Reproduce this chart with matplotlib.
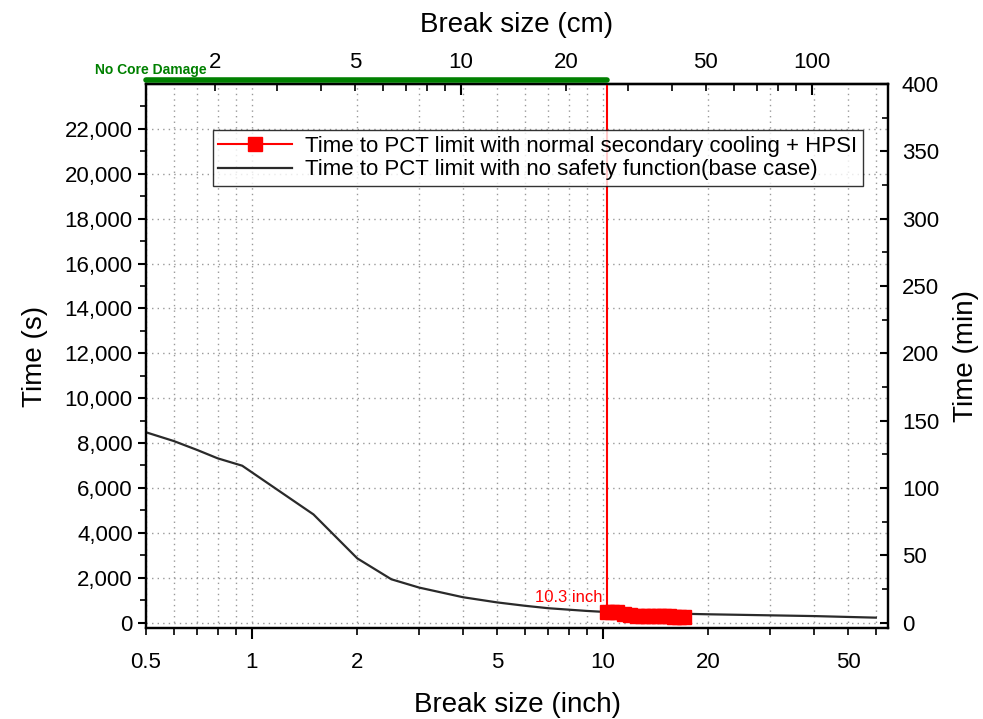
import matplotlib
matplotlib.use("Agg")
import matplotlib.pyplot as plt
from matplotlib.ticker import FixedLocator, FuncFormatter
import matplotlib.transforms as mtransforms

plt.rcParams['font.family'] = ['Liberation Sans', 'DejaVu Sans']

# base case: no safety function
size_base = [0.5, 0.6, 0.7, 0.8, 0.94, 1.5, 2.0, 2.5, 3.0, 4.0, 5.0, 6.0, 7.0, 9.0, 10.0, 15.0, 20.0, 40.0, 60.0]
time_base = [8480, 8090, 7690, 7320, 6990, 4820, 2860, 1930, 1560, 1130, 900, 750, 640, 520, 480, 410, 370, 290, 220]

# normal secondary cooling + HPSI
size_hpsi = [10.3, 10.6, 11.0, 11.5, 12.0, 12.5, 13.0, 13.5, 14.0, 14.5, 15.0, 15.5, 16.0, 16.5, 17.0]
time_hpsi = [480, 470, 460, 380, 330, 300, 290, 285, 280, 280, 275, 275, 270, 270, 270]

limit_size = 10.3

fig = plt.figure(figsize=(9.83, 7.19), dpi=100)
ax = fig.add_axes([0.1485, 0.1266, 0.7549, 0.7566])

ax.plot(size_base, time_base, color='#2a2a2a', lw=1.6, zorder=3,
        label='Time to PCT limit with no safety function(base case)')
ax.plot(size_hpsi, time_hpsi, color='red', marker='s', ms=10, lw=1.5, zorder=4,
        label='Time to PCT limit with normal secondary cooling + HPSI')

# 10.3 inch boundary
ax.plot([limit_size, limit_size], [600, 24000], color='red', lw=1.5, zorder=4)
ax.text(limit_size * 0.97, 780, '10.3 inch', color='red', fontsize=12, ha='right', va='bottom')

# no core damage bar above the axis
trans = mtransforms.blended_transform_factory(ax.transData, ax.transAxes)
ax.plot([0.5, limit_size], [1.008, 1.008], transform=trans, color='#008000', lw=4,
        solid_capstyle='round', clip_on=False, zorder=6)
ax.text(0.007, 1.018, 'No Core Damage', transform=ax.transAxes, color='#008000',
        fontsize=10, fontweight='bold', ha='center', va='baseline')

ax.set_xscale('log')
ax.set_xlim(0.5, 65)
ax.set_ylim(-240, 24000)

x_minor = [0.5, 0.6, 0.7, 0.8, 0.9, 2, 3, 4, 5, 6, 7, 8, 9, 20, 30, 40, 50, 60]
ax.xaxis.set_major_locator(FixedLocator([1, 10]))
ax.xaxis.set_minor_locator(FixedLocator(x_minor))
ax.xaxis.set_major_formatter(FuncFormatter(lambda v, p: '%g' % v))
ax.xaxis.set_minor_formatter(FuncFormatter(lambda v, p: '%g' % v if v in (0.5, 2, 5, 20, 50) else ''))

ax.yaxis.set_major_locator(FixedLocator(list(range(0, 22001, 2000))))
ax.yaxis.set_minor_locator(FixedLocator(list(range(1000, 23001, 2000))))
ax.yaxis.set_major_formatter(FuncFormatter(lambda v, p: '{:,.0f}'.format(v)))

ax.tick_params(axis='x', which='major', direction='out', length=8, width=1.5, labelsize=16, pad=9)
ax.tick_params(axis='x', which='minor', direction='out', length=5, width=1.2, labelsize=16, pad=12)
ax.tick_params(axis='y', which='major', direction='out', length=6, width=1.5, labelsize=16)
ax.tick_params(axis='y', which='minor', direction='out', length=4, width=1.2)

ax.grid(True, which='both', axis='x', ls=(0, (1, 3)), color='#999999', lw=1.0)
ax.grid(True, which='major', axis='y', ls=(0, (1, 3)), color='#999999', lw=1.0)

for s in ax.spines.values():
    s.set_linewidth(1.6)

ax.set_xlabel('Break size (inch)', fontsize=20, labelpad=14)
ax.set_ylabel('Time (s)', fontsize=20, labelpad=12)

# right axis in minutes
ax2 = ax.twinx()
ax2.set_ylim(-240 / 60, 24000 / 60)
ax2.yaxis.set_major_locator(FixedLocator(list(range(0, 401, 50))))
ax2.yaxis.set_minor_locator(FixedLocator(list(range(25, 400, 50))))
ax2.tick_params(axis='y', which='major', direction='in', length=6, width=1.5, labelsize=16, pad=10)
ax2.tick_params(axis='y', which='minor', direction='in', length=4, width=1.2)
ax2.set_ylabel('Time (min)', fontsize=20, labelpad=10)
for s in ax2.spines.values():
    s.set_linewidth(1.6)

# top axis in cm
top = ax.secondary_xaxis('top', functions=(lambda x: x * 2.54, lambda x: x / 2.54))
top.xaxis.set_major_locator(FixedLocator([10, 100]))
top.xaxis.set_minor_locator(FixedLocator([2, 3, 4, 5, 6, 7, 8, 9, 20, 30, 40, 50, 60, 70, 80, 90, 200]))
top.xaxis.set_major_formatter(FuncFormatter(lambda v, p: '%g' % v))
top.xaxis.set_minor_formatter(FuncFormatter(lambda v, p: '%g' % v if v in (2, 5, 20, 50) else ''))
top.tick_params(axis='x', which='major', direction='in', length=8, width=1.5, labelsize=16, pad=8)
top.tick_params(axis='x', which='minor', direction='in', length=5, width=1.2, labelsize=16, pad=8)
top.set_xlabel('Break size (cm)', fontsize=20, labelpad=14)
top.spines['top'].set_linewidth(1.6)

leg = ax.legend(handles=ax.get_lines()[1::-1], loc='upper left', bbox_to_anchor=(0.09, 0.915),
                borderaxespad=0, fontsize=16, frameon=True, fancybox=False, edgecolor='black',
                handlelength=3.3, borderpad=0.25, labelspacing=0.12, handletextpad=0.6)
leg.get_frame().set_linewidth(1.0)

fig.savefig('out.png', dpi=100)
